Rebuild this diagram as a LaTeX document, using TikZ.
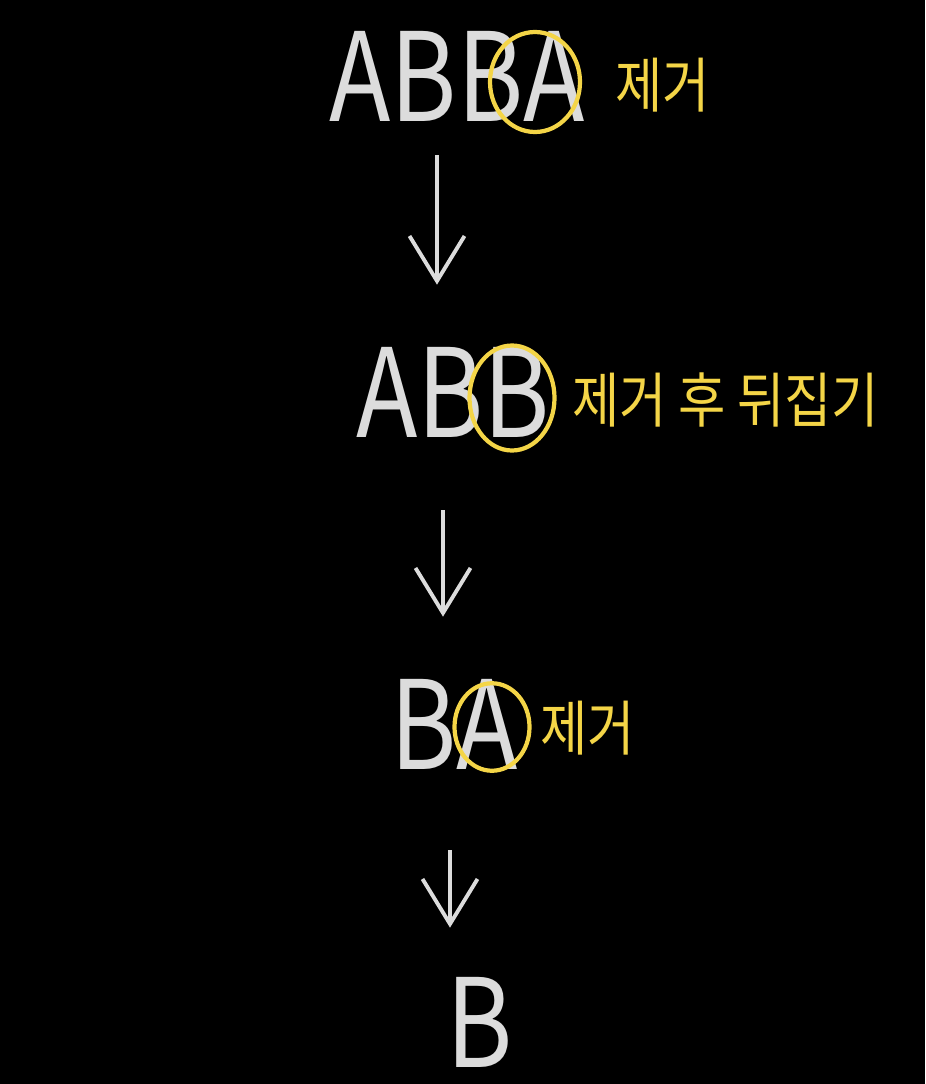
\documentclass[tikz,border=0pt]{standalone}
\usepackage{fontspec}
\setmainfont{Noto Sans CJK KR}
\usepackage{tikz}
\usetikzlibrary{arrows.meta,positioning,shapes.geometric}
\definecolor{chalk}{HTML}{DCDCDC}
\definecolor{marker}{HTML}{F4D547}
\begin{document}
\begin{tikzpicture}[
  word/.style={font=\fontsize{70}{72}\selectfont,text=chalk,inner sep=0pt,
    text height=51pt,text depth=0pt,anchor=south,xscale=0.82,transform shape},
  hit/.style={ellipse,draw=marker,line width=2.4pt,inner sep=0pt},
  note/.style={font=\fontsize{34}{36}\selectfont,text=marker,inner sep=0pt,
    anchor=west,xscale=0.86,transform shape},
  ar/.style={-{Straight Barb[length=9mm,width=11mm]},draw=chalk,line width=2.2pt}]
\fill[black] (0,0) rectangle (18.5,-21.68);
% step 1
\node[word] (abba) at (9.14,-2.44) {ABBA};
\node[hit,minimum width=1.8cm,minimum height=2cm] (abbaA) at (10.7,-1.64) {};
\node[note] (cut1) at (12.3,-1.7) {제거};
% step 2
\node[word] (abb) at (9.06,-8.76) {ABB};
\node[hit,minimum width=1.7cm,minimum height=2.1cm] (abbB) at (10.24,-7.96) {};
\node[note] (cut2) at (11.44,-8.0) {제거 후 뒤집기};
% step 3
\node[word] (ba) at (9.08,-15.4) {BA};
\node[hit,minimum width=1.5cm,minimum height=1.75cm] (baA) at (9.84,-14.54) {};
\node[note] (cut3) at (10.8,-14.56) {제거};
% result
\node[word] (b) at (9.6,-21.36) {B};
\draw[ar] ([xshift=-4mm,yshift=-6.6mm]abba.south) -- ([xshift=-3.2mm,yshift=12.6mm]abb.north);
\draw[ar] ([xshift=-2mm,yshift=-14.4mm]abb.south) -- ([xshift=-2.2mm,yshift=12.6mm]ba.north);
\draw[ar] ([xshift=-0.8mm,yshift=-16mm]ba.south) -- ([xshift=-6mm,yshift=10mm]b.north);
\end{tikzpicture}
\end{document}
